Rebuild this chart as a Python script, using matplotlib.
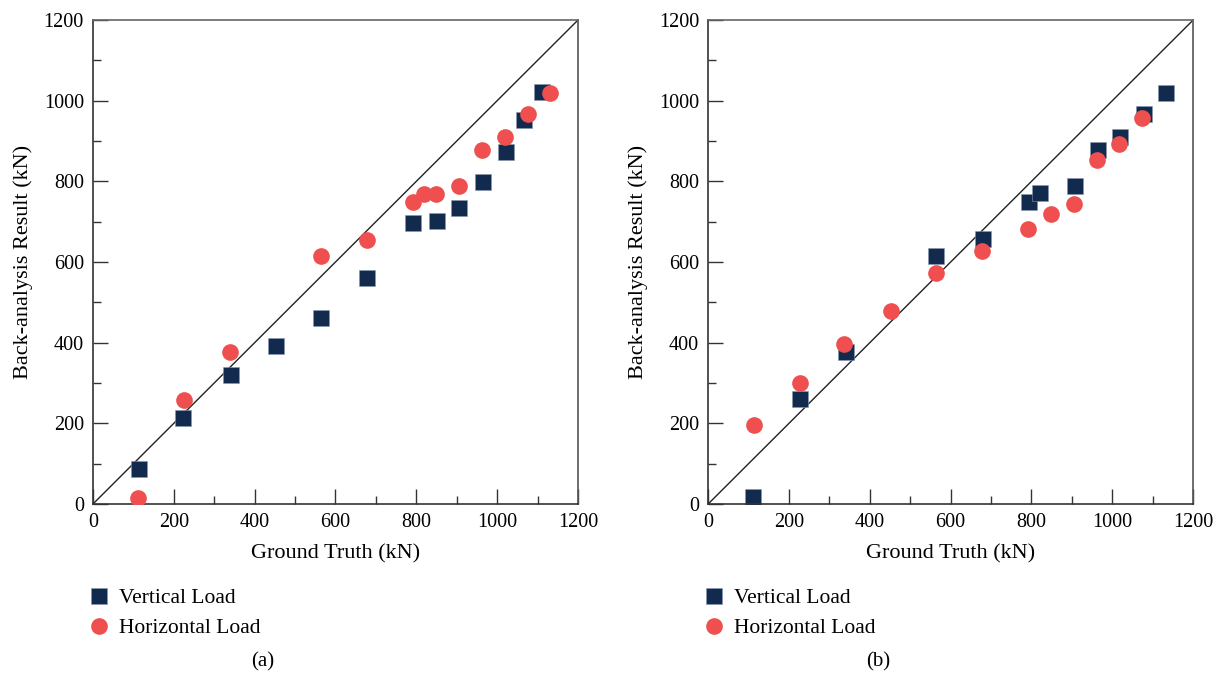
import numpy as np
import matplotlib.pyplot as plt
from matplotlib.ticker import MultipleLocator

# data (kN)
# panel (a)
a_vert_x = [114, 223, 341, 452, 565, 679, 793, 851, 906, 964, 1021, 1067, 1112]
a_vert_y = [88, 214, 321, 393, 462, 561, 698, 701, 735, 799, 873, 951, 1021]
a_hori_x = [111, 226, 340, 564, 678, 792, 819, 849, 905, 963, 1019, 1076, 1131]
a_hori_y = [16, 258, 378, 614, 655, 748, 769, 769, 789, 877, 911, 967, 1018]

# panel (b)
b_vert_x = [112, 227, 341, 565, 679, 794, 820, 907, 964, 1020, 1078, 1132]
b_vert_y = [17, 260, 378, 614, 656, 748, 770, 789, 877, 911, 967, 1019]
b_hori_x = [114, 228, 336, 452, 565, 678, 792, 848, 906, 963, 1016, 1074]
b_hori_y = [196, 300, 396, 479, 572, 628, 683, 718, 745, 852, 893, 956]

panels = [
    ("(a)", a_vert_x, a_vert_y, a_hori_x, a_hori_y),
    ("(b)", b_vert_x, b_vert_y, b_hori_x, b_hori_y),
]

navy = "#112a4e"
red = "#ef4f4f"

plt.rcParams['font.family'] = ['Liberation Serif', 'DejaVu Serif']

fig = plt.figure(figsize=(12.23, 6.79), dpi=100)

lefts = [0.076, 0.579]
for left, (cap, vx, vy, hx, hy) in zip(lefts, panels):
    ax = fig.add_axes([left, 0.2577, 0.3966, 0.7128])
    ax.plot([0, 1200], [0, 1200], color="#222222", lw=1.0, zorder=1)
    ax.plot(vx, vy, 's', color=navy, ms=11, mec="#8899aa", mew=0.4,
            label="Vertical Load", zorder=2)
    ax.plot(hx, hy, 'o', color=red, ms=12, mec=red, mew=0,
            label="Horizontal Load", zorder=3)
    ax.set_xlim(0, 1200)
    ax.set_ylim(0, 1200)
    ax.xaxis.set_major_locator(MultipleLocator(200))
    ax.xaxis.set_minor_locator(MultipleLocator(100))
    ax.yaxis.set_major_locator(MultipleLocator(200))
    ax.yaxis.set_minor_locator(MultipleLocator(100))
    ax.tick_params(which='major', direction='in', length=11, width=1,
                   labelsize=14.5, color="#333333", pad=6.5)
    ax.tick_params(which='minor', direction='in', length=6, width=1,
                   color="#333333")
    for sp in ax.spines.values():
        sp.set_color("#333333")
        sp.set_linewidth(1.2)
    ax.spines['top'].set_color("#666666")
    ax.spines['right'].set_color("#555555")
    ax.set_xlabel("Ground Truth (kN)", fontsize=16, labelpad=9)
    ax.set_ylabel("Back-analysis Result (kN)", fontsize=16, labelpad=8)
    ax.legend(loc='upper left', bbox_to_anchor=(-0.03, -0.156), frameon=False,
              fontsize=15.5, handletextpad=0.4, labelspacing=0.46,
              handlelength=1.1, borderaxespad=0)
    ax.text(0.35, -0.326, cap, transform=ax.transAxes, ha='center',
            va='center', fontsize=15)

fig.savefig("out.png", dpi=100)
